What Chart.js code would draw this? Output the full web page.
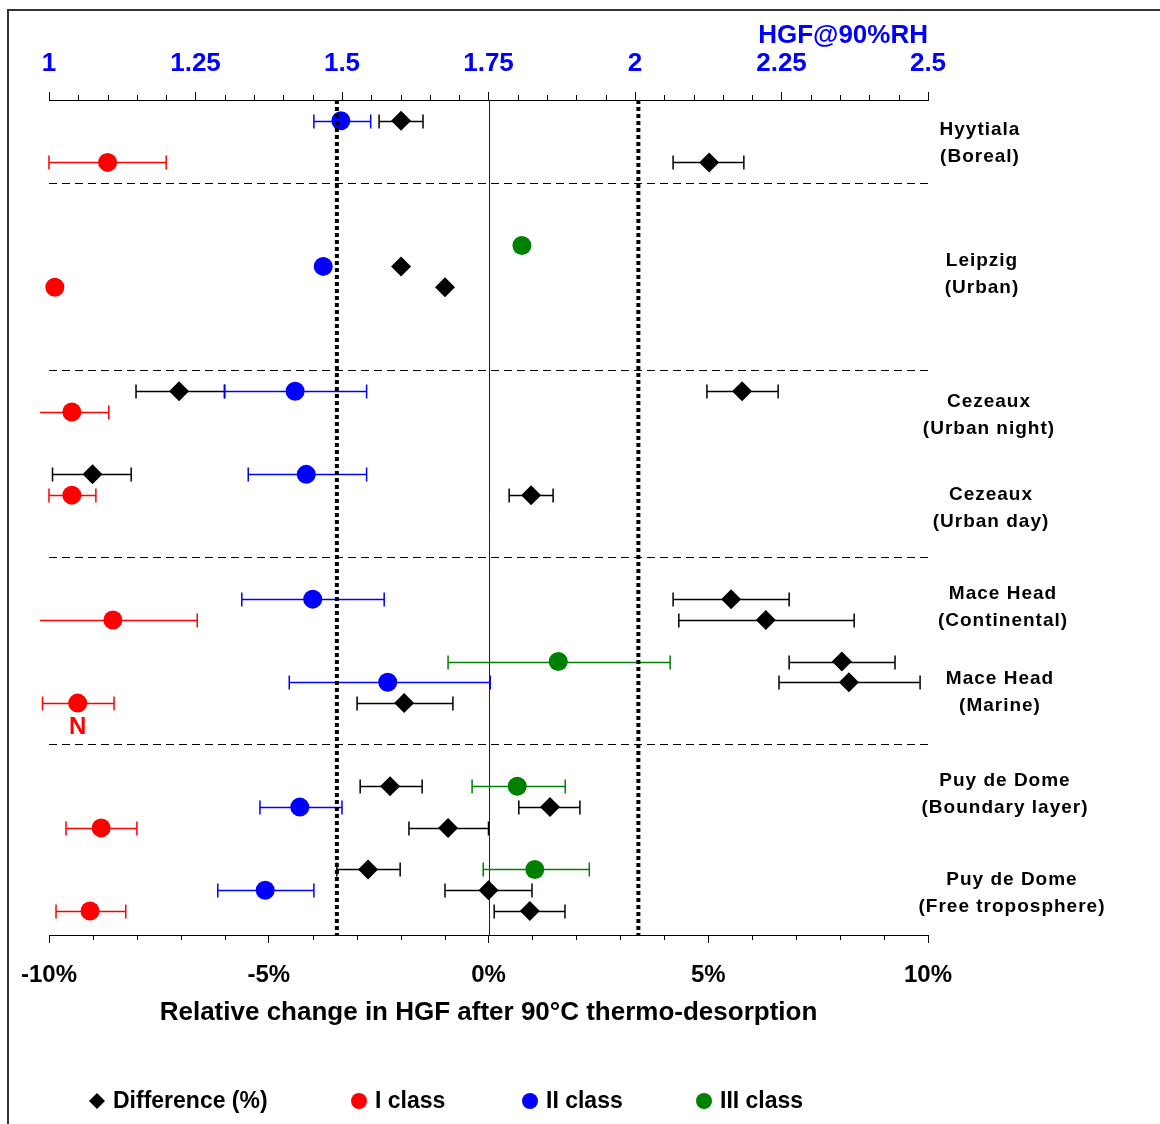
<!DOCTYPE html>
<html>
<head>
<meta charset="utf-8">
<script src="https://cdn.jsdelivr.net/npm/chart.js@4.4.1/dist/chart.umd.min.js"></script>
<style>
  html, body { margin: 0; padding: 0; background: #fff; }
  canvas { display: block; }
</style>
</head>
<body>
<canvas id="hgfChart" width="1160" height="1124"></canvas>
<script>
// rows are counted from the top, one slot per marker line
var sites = [
  ['Hyytiala', '(Boreal)'],
  ['Leipzig', '(Urban)'],
  ['Cezeaux', '(Urban night)'],
  ['Cezeaux', '(Urban day)'],
  ['Mace Head', '(Continental)'],
  ['Mace Head', '(Marine)'],
  ['Puy de Dome', '(Boundary layer)'],
  ['Puy de Dome', '(Free troposphere)']
];
var siteRows = [2.08, 8.38, 15.17, 19.64, 24.4, 28.49, 33.4, 38.16];
var separatorRows = [4, 13, 22, 31];

var pctTickLabels = [-10, -5, 0, 5, 10];
var hgfTickLabels = [1, 1.25, 1.5, 1.75, 2, 2.25, 2.5];

// Difference (%) - bottom axis
var diffRows = [1, 3, 8, 9, 14, 14, 18, 19, 24, 25, 27, 28, 29, 33, 34, 35, 37, 38, 39];
var diffVals = [-1.99, 5.02, -1.99, -0.99, -7.04, 5.77, -9.01, 0.97, 5.52, 6.31, 8.04, 8.2, -1.92, -2.24, 1.4, -0.92, -2.74, 0.0, 0.94];
var diffLo   = [-2.49, 4.2, null, null, -8.02, 4.97, -9.92, 0.47, 4.2, 4.33, 6.84, 6.61, -2.99, -2.92, 0.69, -1.81, -3.45, -0.99, 0.13];
var diffHi   = [-1.49, 5.81, null, null, -6.01, 6.59, -8.13, 1.47, 6.84, 8.32, 9.25, 9.82, -0.81, -1.51, 2.08, 0.0, -2.01, 0.99, 1.74];

// HGF classes - top axis
var cls1Rows = [3, 9, 15, 19, 25, 29, 35, 39];
var cls1Vals = [1.1, 1.01, 1.039, 1.039, 1.109, 1.049, 1.089, 1.07];
var cls1Lo   = [1.0, null, 0.98, 1.0, 0.98, 0.989, 1.029, 1.012];
var cls1Hi   = [1.2, null, 1.102, 1.08, 1.253, 1.111, 1.15, 1.131];

var cls2Rows = [1, 8, 14, 18, 24, 28, 34, 38];
var cls2Vals = [1.498, 1.468, 1.42, 1.439, 1.45, 1.578, 1.428, 1.369];
var cls2Lo   = [1.452, null, 1.3, 1.34, 1.329, 1.41, 1.36, 1.288];
var cls2Hi   = [1.549, null, 1.542, 1.542, 1.572, 1.753, 1.5, 1.452];

var cls3Rows = [7, 27, 33, 37];
var cls3Vals = [1.807, 1.869, 1.799, 1.829];
var cls3Lo   = [null, 1.681, 1.722, 1.741];
var cls3Hi   = [null, 2.06, 1.881, 1.922];

var limitLines = [-3.45, 3.41];

var FONT = '"Liberation Sans", Arial, sans-serif';

function pts(rows, vals) {
  return rows.map(function (r, i) { return { x: vals[i], y: r }; });
}
function isIn(list, v) {
  return list.some(function (m) { return Math.abs(m - v) < 1e-6; });
}
function steps(from, to, step) {
  var out = [];
  var n = Math.round((to - from) / step);
  for (var i = 0; i <= n; i++) out.push({ value: Math.round((from + i * step) * 1000) / 1000 });
  return out;
}

var overlay = {
  id: 'overlay',
  beforeDraw: function (chart) {
    var ctx = chart.ctx;
    ctx.save();
    ctx.fillStyle = '#fff';
    ctx.fillRect(0, 0, chart.width, chart.height);
    ctx.strokeStyle = '#333';
    ctx.lineWidth = 2;
    ctx.beginPath();
    ctx.moveTo(8, chart.height);
    ctx.lineTo(8, 10);
    ctx.lineTo(chart.width, 10);
    ctx.stroke();
    ctx.restore();
  },
  beforeDatasetsDraw: function (chart) {
    var ctx = chart.ctx, a = chart.chartArea, y = chart.scales.y;
    ctx.save();
    var zx = Math.round(chart.scales.x.getPixelForValue(0)) + 0.5;
    ctx.strokeStyle = '#222';
    ctx.lineWidth = 1;
    ctx.beginPath();
    ctx.moveTo(zx, a.top);
    ctx.lineTo(zx, a.bottom);
    ctx.stroke();
    // error bars
    chart.data.datasets.forEach(function (ds) {
      var sx = chart.scales[ds.xAxisID];
      ctx.strokeStyle = ds.barColor;
      ctx.lineWidth = 1.5;
      ds.data.forEach(function (p, i) {
        var lo = ds.errLo[i], hi = ds.errHi[i];
        if (lo == null) return;
        var py = Math.round(y.getPixelForValue(p.y)) + 0.5;
        var x0 = sx.getPixelForValue(lo), x1 = sx.getPixelForValue(hi);
        var edge = a.left - 9;
        var capL = x0 >= edge;
        if (!capL) x0 = edge;
        ctx.beginPath();
        ctx.moveTo(x0, py);
        ctx.lineTo(x1, py);
        if (capL) { ctx.moveTo(x0, py - 7); ctx.lineTo(x0, py + 7); }
        ctx.moveTo(x1, py - 7);
        ctx.lineTo(x1, py + 7);
        ctx.stroke();
      });
    });
    ctx.restore();
  },
  afterDatasetsDraw: function (chart) {
    var ctx = chart.ctx, a = chart.chartArea, x = chart.scales.x;
    ctx.save();
    ctx.strokeStyle = '#000';
    ctx.lineWidth = 4;
    ctx.setLineDash([4, 3]);
    limitLines.forEach(function (v) {
      var px = x.getPixelForValue(v);
      ctx.beginPath();
      ctx.moveTo(px, a.top);
      ctx.lineTo(px, a.bottom);
      ctx.stroke();
    });
    ctx.restore();
  },
  afterDraw: function (chart, args, o) {
    var ctx = chart.ctx, a = chart.chartArea, y = chart.scales.y;
    ctx.save();
    // minor ticks
    ctx.strokeStyle = '#000';
    ctx.lineWidth = 1;
    chart.scales.x.ticks.forEach(function (t) {
      if (isIn(pctTickLabels, t.value)) return;
      var px = Math.round(chart.scales.x.getPixelForValue(t.value)) + 0.5;
      ctx.beginPath(); ctx.moveTo(px, a.bottom); ctx.lineTo(px, a.bottom + 5); ctx.stroke();
    });
    chart.scales.x2.ticks.forEach(function (t) {
      if (isIn(hgfTickLabels, t.value)) return;
      var px = Math.round(chart.scales.x2.getPixelForValue(t.value)) + 0.5;
      ctx.beginPath(); ctx.moveTo(px, a.top); ctx.lineTo(px, a.top - 5); ctx.stroke();
    });

    // site names
    ctx.fillStyle = '#000';
    ctx.font = 'bold 19px ' + FONT;
    ctx.letterSpacing = '1px';
    ctx.textAlign = 'center';
    ctx.textBaseline = 'middle';
    sites.forEach(function (s, i) {
      var yc = y.getPixelForValue(siteRows[i]);
      ctx.fillText(s[0], o.siteX[i], yc - 13.5);
      ctx.fillText(s[1], o.siteX[i], yc + 13.5);
    });
    ctx.letterSpacing = '0px';

    // note under the marine class I point
    ctx.fillStyle = '#FF0000';
    ctx.font = 'bold 24px ' + FONT;
    ctx.fillText(o.note.text, chart.scales.x2.getPixelForValue(o.note.x), y.getPixelForValue(o.note.y) + o.note.dy);

    // legend
    ctx.textAlign = 'left';
    ctx.font = 'bold 23px ' + FONT;
    chart.data.datasets.forEach(function (ds, i) {
      var mx = o.legendX[i], my = o.legendY;
      ctx.fillStyle = ds.backgroundColor;
      ctx.beginPath();
      if (ds.pointStyle === 'rectRot') {
        ctx.moveTo(mx - 8, my); ctx.lineTo(mx, my - 8); ctx.lineTo(mx + 8, my); ctx.lineTo(mx, my + 8);
        ctx.closePath();
      } else {
        ctx.arc(mx, my, 8, 0, Math.PI * 2);
      }
      ctx.fill();
      ctx.fillStyle = '#000';
      ctx.fillText(ds.label, mx + 16, my + 1);
    });
    ctx.restore();
  }
};

function series(label, rows, vals, lo, hi, axis, color, style, radius) {
  return {
    label: label,
    data: pts(rows, vals),
    errLo: lo,
    errHi: hi,
    barColor: color,
    xAxisID: axis,
    yAxisID: 'y',
    pointStyle: style,
    pointRadius: radius,
    pointHoverRadius: radius,
    pointBorderWidth: 0,
    backgroundColor: color,
    borderColor: color,
    showLine: false,
    clip: false
  };
}

var hgfChart = new Chart(document.getElementById('hgfChart').getContext('2d'), {
  type: 'scatter',
  data: {
    datasets: [
      series('Difference (%)', diffRows, diffVals, diffLo, diffHi, 'x', '#000000', 'rectRot', 10),
      series('I class', cls1Rows, cls1Vals, cls1Lo, cls1Hi, 'x2', '#FF0000', 'circle', 9.5),
      series('II class', cls2Rows, cls2Vals, cls2Lo, cls2Hi, 'x2', '#0000FF', 'circle', 9.5),
      series('III class', cls3Rows, cls3Vals, cls3Lo, cls3Hi, 'x2', '#008000', 'circle', 9.5)
    ]
  },
  plugins: [overlay],
  options: {
    responsive: false,
    animation: false,
    devicePixelRatio: 1,
    layout: { padding: { left: 49, right: 232, top: 0, bottom: 0 } },
    font: { family: FONT },
    plugins: {
      legend: { display: false },
      tooltip: { enabled: false },
      overlay: {
        siteX: [980, 982, 989, 991, 1003, 1000, 1005, 1012],
        note: { text: 'N', x: 1.049, y: 29, dy: 24 },
        legendX: [97, 359, 530, 704],
        legendY: 1101
      }
    },
    scales: {
      x: {
        type: 'linear',
        position: 'bottom',
        min: -10,
        max: 10,
        afterBuildTicks: function (s) { s.ticks = steps(-10, 10, 1); },
        afterFit: function (s) { s.height = 189; },
        grid: {
          drawOnChartArea: false,
          tickLength: 8,
          tickColor: function (c) { return c.tick && isIn(pctTickLabels, c.tick.value) ? '#000' : 'rgba(0,0,0,0)'; }
        },
        border: { display: true, color: '#000', width: 1 },
        ticks: {
          autoSkip: false,
          maxRotation: 0,
          padding: 18,
          color: '#000',
          font: { family: FONT, size: 24, weight: 'bold' },
          callback: function (v) { return isIn(pctTickLabels, v) ? Math.round(v) + '%' : ''; }
        },
        title: {
          display: true,
          text: 'Relative change in HGF after 90°C thermo-desorption',
          color: '#000',
          font: { family: FONT, size: 26, weight: 'bold' },
          padding: { top: 0, bottom: 96 }
        }
      },
      x2: {
        type: 'linear',
        position: 'top',
        min: 1,
        max: 2.5,
        afterBuildTicks: function (s) { s.ticks = steps(1, 2.5, 0.05); },
        afterFit: function (s) { s.height = 100; },
        grid: {
          drawOnChartArea: false,
          tickLength: 8,
          tickColor: function (c) { return c.tick && isIn(hgfTickLabels, c.tick.value) ? '#000' : 'rgba(0,0,0,0)'; }
        },
        border: { display: true, color: '#000', width: 1 },
        ticks: {
          autoSkip: false,
          maxRotation: 0,
          padding: 13,
          color: '#0000FF',
          font: { family: FONT, size: 26, weight: 'bold' },
          callback: function (v) { return isIn(hgfTickLabels, v) ? String(Math.round(v * 100) / 100) : ''; }
        },
        title: {
          display: true,
          text: 'HGF@90%RH',
          align: 'end',
          color: '#0000FF',
          font: { family: FONT, size: 26, weight: 'bold' },
          padding: { top: 20, bottom: 0 }
        }
      },
      y: {
        type: 'linear',
        min: 0,
        max: 40.15,
        reverse: true,
        afterBuildTicks: function (s) { s.ticks = separatorRows.map(function (v) { return { value: v }; }); },
        afterFit: function (s) { s.width = 0; },
        ticks: { display: false },
        grid: { color: '#000', lineWidth: 1, drawTicks: false },
        border: { display: false, dash: [8, 5] }
      }
    }
  }
});
</script>
</body>
</html>
